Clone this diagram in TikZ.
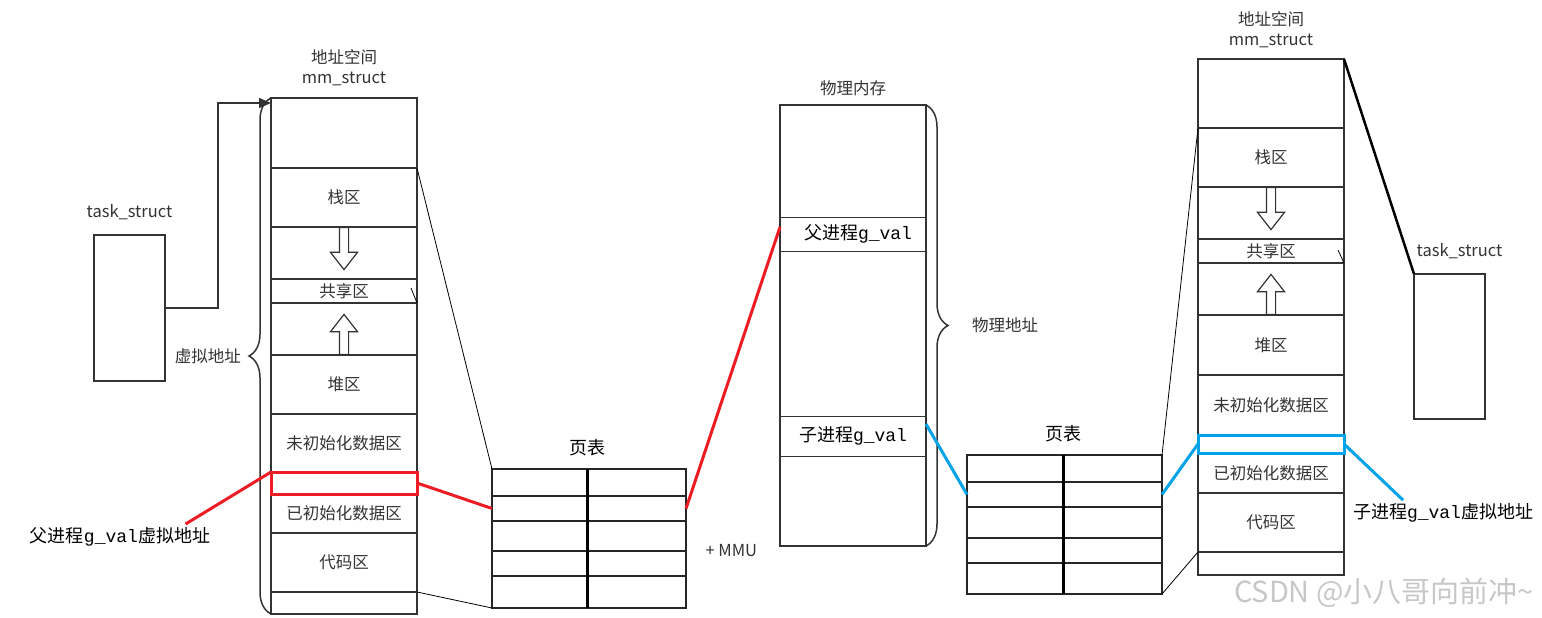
\documentclass[tikz,border=0pt]{standalone}
\usepackage{fontspec}
\setmainfont{Noto Sans CJK SC}
\setmonofont{Liberation Mono}
\usetikzlibrary{shapes.arrows, arrows.meta, positioning, decorations.pathreplacing}
\definecolor{paintred}{HTML}{EE1C25}
\definecolor{paintblue}{HTML}{00A2E8}
\definecolor{inkgray}{HTML}{333333}

\begin{document}
\begin{tikzpicture}[
        x=1pt, y=-1pt,
        every node/.style={font=\fontsize{16.5}{20}\selectfont, text=inkgray},
        seg/.style={draw=inkgray, line width=1.5pt, minimum width=146pt,
                    inner sep=0pt, outer sep=0pt},
        pseg/.style={seg, line width=1pt},
        cell/.style={draw=black!85, line width=1.5pt, inner sep=0pt, outer sep=0pt},
        taskbox/.style={draw=inkgray, line width=1.5pt, minimum width=71pt,
                    minimum height=146pt, inner sep=0pt, outer sep=0pt},
        hollow/.style={single arrow, draw=inkgray, line width=1.2pt,
                    inner xsep=0pt, inner ysep=4pt, minimum width=26pt,
                    single arrow head extend=9pt, single arrow tip angle=76},
        biglbl/.style={font=\fontsize{18}{20}\selectfont, text=black},
        redline/.style={draw=paintred, line width=3pt},
        blueline/.style={draw=paintblue, line width=3pt},
        thinline/.style={draw=black, line width=0.8pt},
        curly/.style={draw=inkgray, line width=1.5pt, decorate,
                    decoration={brace, amplitude=22pt}}
    ]
        \useasboundingbox (0,0) rectangle (1542,618);

        % parent process: task_struct and mm_struct
        \node[taskbox, anchor=north west] (ltask) at (94,235) {};
        \node[above=12pt of ltask] {task\_struct};

        \node[seg, minimum height=70pt, anchor=north west] (ltop) at (271,98) {};
        \node[seg, minimum height=59pt, below=0pt of ltop] (lstack) {栈区};
        \node[seg, minimum height=52pt, below=0pt of lstack] (ldown) {};
        \node[seg, minimum height=24pt, below=0pt of ldown] (lshare) {共享区};
        \node[seg, minimum height=52pt, below=0pt of lshare] (lup) {};
        \node[seg, minimum height=59pt, below=0pt of lup] (lheap) {堆区};
        \node[seg, minimum height=58pt, below=0pt of lheap] (luninit) {未初始化数据区};
        \node[seg, minimum height=22pt, below=0pt of luninit] (lgv) {};
        \node[seg, minimum height=39pt, below=0pt of lgv] (ldata) {已初始化数据区};
        \node[seg, minimum height=59pt, below=0pt of ldata] (lcode) {代码区};
        \node[seg, minimum height=22pt, below=0pt of lcode] (lbot) {};
        \node[align=center, above=9pt of ltop] {地址空间\\mm\_struct};

        \node[hollow, rotate=-90, anchor=tail, minimum height=42pt] (ldarr) at (ldown.north) {};
        \node[hollow, rotate=90, anchor=tail, minimum height=40pt] (luarr) at (lup.south) {};

        \draw[curly] (lbot.south west) -- (ltop.north west)
            node[midway, left=26pt] (lvirt) {虚拟地址};
        \draw[draw=inkgray, line width=1.5pt, -{Triangle[length=12pt, width=10pt]}]
            (ltask.east) -- ++(53,0) |- ([yshift=-5pt]ltop.north west);
        \draw[thinline] ([shift={(-6,-3)}]lshare.east) -- ([shift={(0,12)}]lshare.east);

        % page table of the parent
        \foreach \i/\t/\h in {1/469/27, 2/496/25, 3/521/30, 4/551/25, 5/576/32} {
            \node[cell, minimum width=95pt, minimum height=\h pt, anchor=north west]
                (lpta\i) at (492,\t) {};
            \node[cell, minimum width=99pt, minimum height=\h pt, anchor=north west]
                (lptb\i) at (587,\t) {};
        }
        \draw[line width=3pt] (lptb1.north west) -- (lptb5.south west);
        \node[biglbl, above=9pt of lpta1.north east] {页表};
        \node[right=16pt of lptb3.south east] {+ MMU};

        % physical memory
        \node[pseg, minimum height=112pt, anchor=north west] (ptop) at (780,105) {};
        \node[pseg, minimum height=34pt, below=0pt of ptop] (pfather)
            {\hspace*{10pt}\fontsize{18}{20}\selectfont\color{black}父进程{\ttfamily g\_val}};
        \node[pseg, minimum height=165pt, below=0pt of pfather] (pmid) {};
        \node[pseg, minimum height=40pt, below=0pt of pmid] (pchild)
            {\fontsize{18}{20}\selectfont\color{black}子进程{\ttfamily g\_val}};
        \node[pseg, minimum height=90pt, below=0pt of pchild] (pbot) {};
        \draw[draw=inkgray, line width=1.8pt] (ptop.north west) rectangle (pbot.south east);
        \node[above=6pt of ptop] {物理内存};
        \draw[curly] (ptop.north east) -- (pbot.south east)
            node[midway, right=42pt] (pphys) {物理地址};

        % page table of the child
        \foreach \i/\t/\h in {1/455/27, 2/482/25, 3/507/31, 4/538/25, 5/563/31} {
            \node[cell, minimum width=96pt, minimum height=\h pt, anchor=north west]
                (rpta\i) at (967,\t) {};
            \node[cell, minimum width=99pt, minimum height=\h pt, anchor=north west]
                (rptb\i) at (1063,\t) {};
        }
        \draw[line width=3pt] (rptb1.north west) -- (rptb5.south west);
        \node[biglbl, above=9pt of rpta1.north east] {页表};

        % child process: mm_struct and task_struct
        \node[seg, minimum height=69pt, anchor=north west] (rtop) at (1198,59) {};
        \node[seg, minimum height=59pt, below=0pt of rtop] (rstack) {栈区};
        \node[seg, minimum height=52pt, below=0pt of rstack] (rdown) {};
        \node[seg, minimum height=24pt, below=0pt of rdown] (rshare) {共享区};
        \node[seg, minimum height=52pt, below=0pt of rshare] (rup) {};
        \node[seg, minimum height=60pt, below=0pt of rup] (rheap) {堆区};
        \node[seg, minimum height=60pt, below=0pt of rheap] (runinit) {未初始化数据区};
        \node[seg, minimum height=18pt, below=0pt of runinit] (rgv) {};
        \node[seg, minimum height=40pt, below=0pt of rgv] (rdata) {已初始化数据区};
        \node[seg, minimum height=59pt, below=0pt of rdata] (rcode) {代码区};
        \node[seg, minimum height=23pt, below=0pt of rcode] (rbot) {};
        \node[align=center, above=8pt of rtop] {地址空间\\mm\_struct};

        \node[hollow, rotate=-90, anchor=tail, minimum height=42pt] (rdarr) at (rdown.north) {};
        \node[hollow, rotate=90, anchor=tail, minimum height=40pt] (ruarr) at (rup.south) {};
        \draw[thinline] ([shift={(-6,-1)}]rshare.east) -- ([shift={(0,12)}]rshare.east);

        \node[taskbox, minimum height=145pt, anchor=north west] (rtask) at (1414,274) {};
        \node[above=12pt of rtask, xshift=10pt] {task\_struct};
        \draw[draw=black, line width=2.5pt] (rtop.north east) -- (rtask.north west);

        % page table links
        \draw[thinline] (lstack.north east) -- (lpta1.north west);
        \draw[thinline] (lbot.north east) -- (lpta5.south west);
        \draw[thinline] (rptb1.north east) -- (rstack.north west);
        \draw[thinline] (rptb5.south east) -- (rbot.north west);

        % parent g_val
        \node[biglbl] (lflbl) at (120,537) {父进程{\ttfamily g\_val}虚拟地址};
        \draw[redline] (lgv.north west) rectangle (lgv.south east);
        \draw[redline] (lgv.east) -- (lpta2.west);
        \draw[redline] (lptb2.east) -- ([yshift=7pt]pfather.west);
        \draw[redline] ([xshift=-28pt]lflbl.north east) -- (lgv.north west);

        % child g_val
        \node[biglbl] (rclbl) at (1443,513) {子进程{\ttfamily g\_val}虚拟地址};
        \draw[blueline] (rgv.north west) rectangle (rgv.south east);
        \draw[blueline] ([yshift=12pt]pchild.east) -- (rpta2.west);
        \draw[blueline] (rptb2.east) -- (rgv.west);
        \draw[blueline] (rgv.east) -- ([xshift=-40pt]rclbl.north);

        \node[font=\fontsize{29}{29}\selectfont, text=black!22] (mark) at (1384,593)
            {CSDN @小八哥向前冲\textasciitilde};
    \end{tikzpicture}
\end{document}
